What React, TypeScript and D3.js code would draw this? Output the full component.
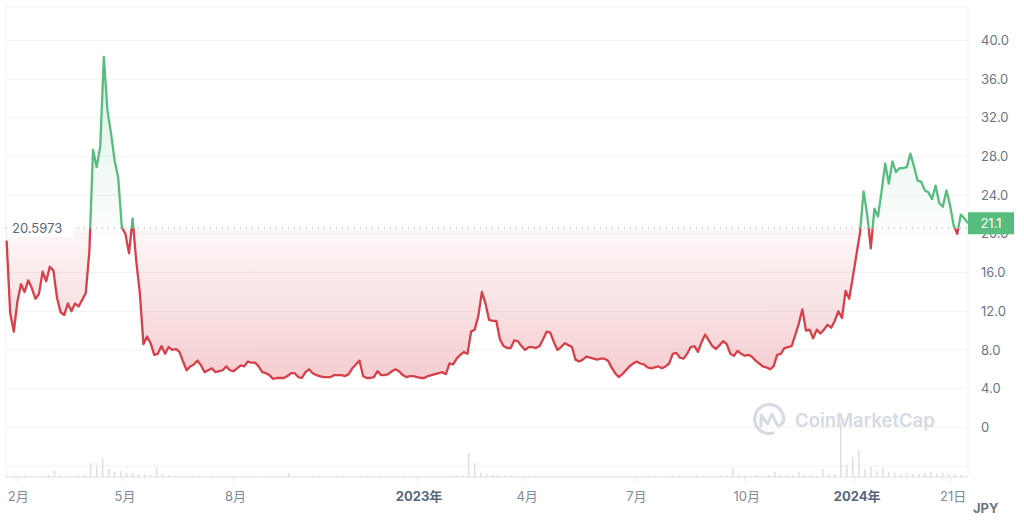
import React, { useEffect, useRef } from 'react';
import * as d3 from 'd3';

// price series, one reading every 3 days from 2022-01-24 (JPY)
const START = new Date(2022, 0, 24);
const STEP_DAYS = 3;
const prices = [
  19.3, 11.8, 9.9, 13.0, 14.8, 14.0, 15.2, 14.4, 13.3, 13.8,
  16.1, 15.1, 16.6, 16.2, 13.4, 11.9, 11.6, 12.8, 12.0, 12.8,
  12.5, 13.2, 13.9, 18.3, 28.7, 26.9, 29.0, 38.3, 32.8, 30.4,
  27.6, 25.8, 20.7, 20.0, 18.0, 21.6, 17.2, 13.9, 8.6, 9.4,
  8.7, 7.5, 7.6, 8.4, 7.6, 8.3, 8.0, 8.1, 7.8, 6.8,
  5.9, 6.3, 6.5, 6.9, 6.4, 5.7, 5.9, 6.1, 5.7, 5.8,
  5.9, 6.3, 5.9, 5.8, 6.1, 6.4, 6.3, 6.8, 6.7, 6.7,
  6.3, 5.7, 5.6, 5.4, 5.0, 5.1, 5.1, 5.1, 5.3, 5.6,
  5.6, 5.2, 5.1, 5.7, 6.0, 5.6, 5.4, 5.3, 5.2, 5.2,
  5.2, 5.4, 5.4, 5.4, 5.3, 5.5, 6.1, 6.5, 6.9, 5.3,
  5.1, 5.1, 5.2, 5.8, 5.4, 5.4, 5.5, 5.8, 6.0, 5.8,
  5.4, 5.2, 5.3, 5.3, 5.2, 5.1, 5.1, 5.3, 5.4, 5.5,
  5.6, 5.7, 5.5, 6.6, 6.5, 7.1, 7.5, 7.8, 7.6, 9.9,
  10.1, 11.5, 14.0, 12.8, 11.1, 11.0, 11.0, 9.1, 8.4, 8.2,
  8.2, 9.0, 8.9, 8.4, 8.0, 8.3, 8.3, 8.2, 8.4, 9.1,
  9.9, 9.8, 8.8, 8.0, 8.3, 8.7, 8.5, 8.3, 7.0, 6.8,
  7.0, 7.3, 7.2, 7.1, 7.0, 7.1, 7.1, 6.9, 6.2, 5.6,
  5.2, 5.5, 5.9, 6.3, 6.6, 6.8, 6.6, 6.5, 6.2, 6.1,
  6.2, 6.3, 6.1, 6.3, 6.6, 7.6, 7.7, 7.2, 7.1, 7.6,
  8.3, 8.4, 7.8, 8.8, 9.6, 9.0, 8.4, 8.1, 8.5, 8.9,
  8.6, 7.6, 7.4, 7.9, 7.6, 7.4, 7.5, 7.3, 6.9, 6.6,
  6.3, 6.2, 6.0, 6.3, 7.5, 7.6, 8.2, 8.3, 8.4, 9.5,
  10.7, 12.2, 10.0, 10.1, 9.2, 10.1, 9.7, 10.1, 10.6, 10.3,
  11.0, 12.0, 11.3, 14.1, 13.3, 15.5, 17.8, 20.1, 24.4, 22.0,
  18.5, 22.6, 21.8, 24.4, 27.3, 25.2, 27.5, 26.4, 26.8, 26.8,
  26.9, 28.3, 27.0, 25.5, 25.4, 24.5, 24.3, 23.6, 25.0, 23.2,
  22.8, 24.5, 23.0, 20.9, 20.0, 22.0, 21.6, 21.1,
];

// volume, one bar every 5 days from the same start (relative units)
const VOL_STEP_DAYS = 5;
const volumes = [
  1.5, 1, 1, 1.5, 1, 1, 1.5, 2, 7, 2,
  1.5, 1, 1.5, 2, 14, 12, 19, 8, 5, 6,
  4, 4, 3, 3, 2, 10, 3, 2, 1.5, 1.5,
  1, 1.5, 1, 1, 1.5, 1, 1, 1.5, 1, 1,
  1, 1.5, 1, 1, 1, 1.5, 1, 4, 1.5, 1,
  1, 1.5, 1, 1, 1, 1.5, 1, 1, 1, 1.5,
  1, 1, 1.5, 1, 1, 1, 1.5, 1, 1, 1,
  1.5, 1, 1, 1.5, 2, 2, 2, 24, 14, 4,
  3, 2, 2, 1.5, 2, 1.5, 1, 1.5, 1, 1,
  1.5, 1, 1, 1, 1.5, 1, 1, 1.5, 1, 1,
  1, 1.5, 1, 1, 1, 1.5, 1, 1, 1.5, 1,
  1, 1.5, 1.5, 1, 1, 1.5, 1, 1.5, 1, 2,
  2, 9, 2, 1.5, 1.5, 2, 1.5, 2, 5, 2,
  2, 1.5, 5, 2, 2, 1.5, 8, 3, 3, 54,
  12, 20, 27, 8, 10, 6, 9, 5, 4, 3,
  4, 3, 3, 4, 5, 3, 4, 3, 3, 2,
];

const BASE_PRICE = 20.5973;
const LAST_PRICE = '21.1';
const yTicks = [0, 4, 8, 12, 16, 20, 24, 28, 32, 36, 40];
const gridValues = [-4, ...yTicks];
const xTickDates = [
  new Date(2022, 1, 1), new Date(2022, 4, 1), new Date(2022, 7, 1),
  new Date(2023, 0, 1), new Date(2023, 3, 1), new Date(2023, 6, 1),
  new Date(2023, 9, 1), new Date(2024, 0, 1), new Date(2024, 2, 21),
];
const xTickLabels = ['2月', '5月', '8月', '2023年', '4月', '7月', '10月', '2024年', '21日'];
const boldLabels = ['2023年', '2024年'];

const GREEN = '#57bd7f';
const RED = '#d6404a';
const FONT = 'Inter, "Noto Sans CJK JP", sans-serif';

const App = () => {
  const svgRef = useRef<SVGSVGElement>(null);

  useEffect(() => {
    const W = 1024;
    const H = 529;
    const plot = { left: 6, right: 968, top: 7, bottom: 477 };

    const svg = d3.select(svgRef.current).attr('width', W).attr('height', H);
    svg.selectAll('*').remove();

    const x = d3
      .scaleTime()
      .domain([START, new Date(2024, 3, 4)])
      .range([6.6, plot.right]);
    const y = d3.scaleLinear().domain([-4, 40]).range([466, 40.5]);
    const yVol = d3.scaleLinear().domain([0, 54]).range([plot.bottom, 423]);

    const data = prices.map((v, i) => ({ date: d3.timeDay.offset(START, i * STEP_DAYS), v }));
    const vols = volumes.map((v, i) => ({ date: d3.timeDay.offset(START, i * VOL_STEP_DAYS), v }));
    const baseY = y(BASE_PRICE);

    const defs = svg.append('defs');
    defs.append('clipPath').attr('id', 'above')
      .append('rect').attr('x', 0).attr('y', 0).attr('width', W).attr('height', baseY);
    defs.append('clipPath').attr('id', 'below')
      .append('rect').attr('x', 0).attr('y', baseY).attr('width', W).attr('height', H - baseY);

    const gGreen = defs.append('linearGradient').attr('id', 'gGreen')
      .attr('gradientUnits', 'userSpaceOnUse').attr('x1', 0).attr('x2', 0)
      .attr('y1', y(38)).attr('y2', baseY);
    gGreen.append('stop').attr('offset', 0).attr('stop-color', GREEN).attr('stop-opacity', 0.22);
    gGreen.append('stop').attr('offset', 1).attr('stop-color', GREEN).attr('stop-opacity', 0.02);

    const gRed = defs.append('linearGradient').attr('id', 'gRed')
      .attr('gradientUnits', 'userSpaceOnUse').attr('x1', 0).attr('x2', 0)
      .attr('y1', baseY).attr('y2', y(5));
    gRed.append('stop').attr('offset', 0).attr('stop-color', RED).attr('stop-opacity', 0.04);
    gRed.append('stop').attr('offset', 1).attr('stop-color', RED).attr('stop-opacity', 0.26);

    // frame + grid
    svg.append('rect')
      .attr('x', plot.left).attr('y', plot.top)
      .attr('width', plot.right - plot.left).attr('height', plot.bottom - plot.top)
      .attr('fill', 'none').attr('stroke', '#eef0f3');
    svg.append('g').selectAll('line').data(gridValues).enter().append('line')
      .attr('x1', plot.left).attr('x2', plot.right)
      .attr('y1', (d) => y(d)).attr('y2', (d) => y(d))
      .attr('stroke', '#f1f2f4');
    svg.append('line')
      .attr('x1', plot.left).attr('x2', plot.right)
      .attr('y1', plot.bottom).attr('y2', plot.bottom)
      .attr('stroke', '#e6e8ec');

    // volume
    svg.append('g').selectAll('rect').data(vols).enter().append('rect')
      .attr('x', (d) => x(d.date) - 0.75)
      .attr('width', 1.5)
      .attr('y', (d) => yVol(d.v))
      .attr('height', (d) => plot.bottom - yVol(d.v))
      .attr('fill', '#dcdfe5');

    // watermark
    const wm = svg.append('g').attr('fill', 'none').attr('stroke', '#d5dae3');
    wm.append('path')
      .attr('d', 'M783.5,421 A14.5,14.5 0 1 0 773,433')
      .attr('stroke-width', 3.2).attr('stroke-linecap', 'round');
    wm.append('path')
      .attr('d', 'M761,426 L761,415 L767.5,424 L772,414 L776,423 C778,427 781,426 783.5,421')
      .attr('stroke-width', 3).attr('stroke-linejoin', 'round').attr('stroke-linecap', 'round');
    svg.append('text')
      .attr('x', 795).attr('y', 427)
      .attr('font-family', FONT).attr('font-size', 18.5).attr('font-weight', 600)
      .attr('fill', '#d5dae3')
      .text('CoinMarketCap');

    // areas
    const area = d3.area<{ date: Date; v: number }>()
      .x((d) => x(d.date)).y0(baseY).y1((d) => y(d.v));
    svg.append('path').datum(data).attr('d', area).attr('fill', 'url(#gGreen)').attr('clip-path', 'url(#above)');
    svg.append('path').datum(data).attr('d', area).attr('fill', 'url(#gRed)').attr('clip-path', 'url(#below)');

    // baseline
    svg.append('line')
      .attr('x1', plot.left).attr('x2', plot.right)
      .attr('y1', baseY).attr('y2', baseY)
      .attr('stroke', '#a3a9b4').attr('stroke-width', 1).attr('stroke-dasharray', '1 5');

    // lines
    const line = d3.line<{ date: Date; v: number }>().x((d) => x(d.date)).y((d) => y(d.v));
    svg.append('path').datum(data).attr('d', line)
      .attr('fill', 'none').attr('stroke', GREEN).attr('stroke-width', 2.3)
      .attr('stroke-linejoin', 'round').attr('clip-path', 'url(#above)');
    svg.append('path').datum(data).attr('d', line)
      .attr('fill', 'none').attr('stroke', RED).attr('stroke-width', 2.3)
      .attr('stroke-linejoin', 'round').attr('clip-path', 'url(#below)');

    // base label
    svg.append('rect').attr('x', plot.left + 1).attr('y', baseY - 9).attr('width', 66).attr('height', 18).attr('fill', '#fff');
    svg.append('text')
      .attr('x', 12).attr('y', baseY).attr('dy', '0.35em')
      .attr('font-family', FONT).attr('font-size', 13).attr('fill', '#58667e')
      .text(String(BASE_PRICE));

    // y axis labels (20.0 sits partly under the price badge, as in the source)
    svg.append('g').selectAll('text').data(yTicks).enter().append('text')
      .attr('x', 981).attr('y', (d) => y(d)).attr('dy', '0.35em')
      .attr('font-family', FONT).attr('font-size', 13).attr('fill', '#6b7587')
      .text((d) => (d === 0 ? '0' : d3.format('.1f')(d)));

    // last price badge
    const lastY = y(prices[prices.length - 1]);
    svg.append('rect').attr('x', 968).attr('y', lastY - 11).attr('width', 46).attr('height', 22).attr('fill', GREEN);
    svg.append('text')
      .attr('x', 991).attr('y', lastY).attr('dy', '0.35em').attr('text-anchor', 'middle')
      .attr('font-family', FONT).attr('font-size', 13).attr('fill', '#fff')
      .text(LAST_PRICE);

    // x axis
    const xg = svg.append('g');
    xg.selectAll('line').data(xTickDates).enter().append('line')
      .attr('x1', (d) => x(d)).attr('x2', (d) => x(d))
      .attr('y1', plot.bottom).attr('y2', plot.bottom + 4)
      .attr('stroke', '#e6e8ec');
    xg.selectAll('text').data(xTickDates).enter().append('text')
      .attr('x', (d) => x(d) + 2).attr('y', 501)
      .attr('text-anchor', 'middle')
      .attr('font-family', FONT).attr('font-size', 13)
      .attr('font-weight', (_, i) => (boldLabels.includes(xTickLabels[i]) ? 700 : 400))
      .attr('fill', (_, i) => (boldLabels.includes(xTickLabels[i]) ? '#58667e' : '#808a9d'))
      .text((_, i) => xTickLabels[i]);

    svg.append('text')
      .attr('x', 973).attr('y', 513)
      .attr('font-family', FONT).attr('font-size', 13).attr('font-weight', 700).attr('fill', '#6b7587')
      .text('JPY');
  }, []);

  return (
    <div className="price-chart">
      <svg ref={svgRef} style={{ position: 'absolute', left: 0, top: 0, display: 'block' }}></svg>
    </div>
  );
};

export default App;
